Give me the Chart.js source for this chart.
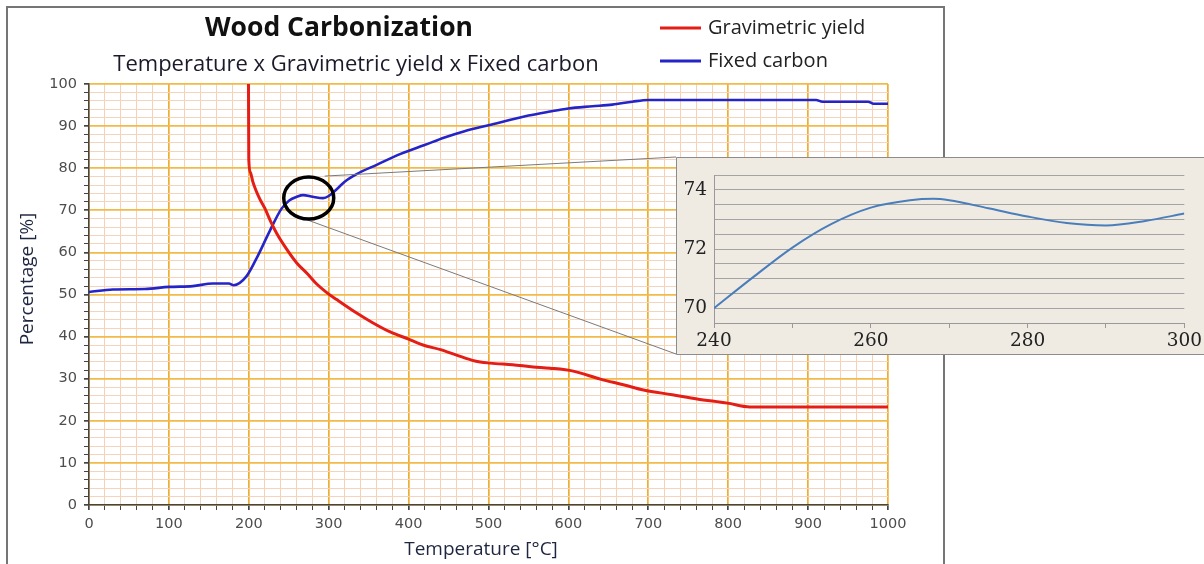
<!DOCTYPE html>
<html><head><meta charset="utf-8">
<script src="https://cdn.jsdelivr.net/npm/chart.js@4.4.1/dist/chart.umd.min.js"></script>
<style>
html,body{margin:0;padding:0;background:#fff;width:1204px;height:564px;overflow:hidden;}
#wrap{position:relative;width:1204px;height:564px;}
#main{position:absolute;left:0;top:0;}
#inset{position:absolute;left:676px;top:157px;}
</style></head>
<body><div id="wrap"><canvas id="main" width="1204" height="564"></canvas><canvas id="inset" width="528" height="198"></canvas></div>
<script>
// ---- data ----
const chartTitle = "Wood Carbonization";
const chartSubtitle = "Temperature x Gravimetric yield x Fixed carbon";
const xAxisTitle = "Temperature [°C]";
const yAxisTitle = "Percentage [%]";
const seriesNames = ["Gravimetric yield", "Fixed carbon"];

const yieldTemp = [199.6, 200, 202, 205, 209, 214, 220, 227, 235, 248, 260, 273, 285, 298, 310, 335, 355, 377, 400, 418, 440, 460, 483, 502, 530, 556, 577, 606, 640, 670, 694, 730, 761, 799, 827, 900, 1000];
const yieldVal  = [100, 82, 79, 76.8, 74.7, 72.6, 70.5, 67.5, 64.5, 60.6, 57.5, 55, 52.5, 50.4, 48.8, 45.6, 43.3, 41.1, 39.4, 38, 36.9, 35.6, 34.2, 33.7, 33.3, 32.8, 32.5, 31.8, 29.9, 28.5, 27.3, 26.2, 25.2, 24.2, 23.3, 23.3, 23.3];

const carbonTemp = [0, 30, 70, 100, 130, 155, 175, 181, 197, 210, 226, 241, 251, 260, 268, 280, 293, 300, 310, 320, 335, 360, 390, 420, 445, 470, 500, 550, 575, 600, 630, 655, 680, 700, 910, 918, 975, 982, 1000];
const carbonVal  = [50.6, 51.2, 51.3, 51.8, 52.0, 52.6, 52.6, 52.2, 54.3, 58.7, 65.0, 70.4, 72.4, 73.2, 73.6, 73.2, 72.9, 73.4, 75.0, 76.8, 78.6, 80.8, 83.4, 85.5, 87.3, 88.8, 90.2, 92.5, 93.4, 94.2, 94.7, 95.1, 95.8, 96.2, 96.2, 95.8, 95.8, 95.3, 95.3];

const insetTemp = [240, 245, 250, 255, 260, 265, 268, 270, 275, 280, 285, 290, 295, 300];
const insetVal  = [70.0, 71.05, 72.05, 72.85, 73.4, 73.65, 73.7, 73.65, 73.38, 73.1, 72.88, 72.8, 72.95, 73.2];

const highlightCenter = [275, 72.9]; // temperature, percentage of the circled zone

function pts(xs, ys){ return xs.map((x,i)=>({x:x, y:ys[i]})); }

const RED = '#e41e16', BLUE = '#2424c8';
const tickFont = {family:'"DejaVu Sans"', size:14.5};

const decor = {
  id:'decor',
  afterDraw(chart){
    const c = chart.ctx;
    c.save();
    // outer frame
    c.strokeStyle = '#767676'; c.lineWidth = 2;
    c.strokeRect(7, 7, 937, 580);
    // titles
    c.fillStyle = '#111'; c.textAlign = 'center'; c.textBaseline = 'middle';
    c.font = 'bold 26.5px "Open Sans"';
    c.fillText(chartTitle, 339, 28);
    c.font = '22px "Open Sans"';
    c.fillStyle = '#1a1a2a';
    c.fillText(chartSubtitle, 356, 65);
    // legend
    const cols = [RED, BLUE], ly = [28, 61];
    c.font = '20px "Open Sans"'; c.textAlign = 'left';
    for (let i=0;i<2;i++){
      c.strokeStyle = cols[i]; c.lineWidth = 3;
      c.beginPath(); c.moveTo(660, ly[i]); c.lineTo(701, ly[i]); c.stroke();
      c.fillStyle = '#222'; c.fillText(seriesNames[i], 708, ly[i]);
    }
    // axis titles
    c.font = '19px "Open Sans"'; c.textAlign = 'center'; c.fillStyle = '#1e2640';
    c.fillText(xAxisTitle, 481, 550);
    c.save(); c.translate(28, 279); c.rotate(-Math.PI/2);
    c.fillText(yAxisTitle, 0, 0); c.restore();
    // highlight ellipse and connector lines
    const sx = chart.scales.x, sy = chart.scales.y;
    const cx = sx.getPixelForValue(highlightCenter[0]), cy = sy.getPixelForValue(highlightCenter[1]);
    c.strokeStyle = '#7a7a7a'; c.lineWidth = 1;
    c.beginPath(); c.moveTo(cx+16, cy-22); c.lineTo(676, 157); c.stroke();
    c.beginPath(); c.moveTo(cx-1, cy+22); c.lineTo(676, 354); c.stroke();
    c.strokeStyle = '#000'; c.lineWidth = 3.5;
    c.beginPath(); c.ellipse(cx, cy, 25, 21, 0, 0, Math.PI*2); c.stroke();
    c.restore();
  }
};

new Chart(document.getElementById('main'), {
  type:'line',
  data:{datasets:[
    {label:seriesNames[0], data:pts(yieldTemp, yieldVal), borderColor:RED, borderWidth:3, pointRadius:0, cubicInterpolationMode:'monotone', fill:false},
    {label:seriesNames[1], data:pts(carbonTemp, carbonVal), borderColor:BLUE, borderWidth:2.6, pointRadius:0, cubicInterpolationMode:'monotone', fill:false}
  ]},
  options:{
    responsive:false, animation:false, events:[],
    layout:{padding:{left:0, top:84, right:316, bottom:0}},
    plugins:{legend:{display:false}, title:{display:false}, tooltip:{enabled:false}},
    scales:{
      x:{type:'linear', min:0, max:1000,
        ticks:{stepSize:20, maxTicksLimit:1000, autoSkip:false, maxRotation:0, color:'#4d4d4d', font:tickFont, padding:6,
          callback:v => v%100===0 ? v : ''},
        grid:{color:ctx => (ctx.tick && ctx.tick.value%100===0) ? '#f0ad32' : '#f5d3b2',
              lineWidth:ctx => (ctx.tick && ctx.tick.value%100===0) ? 1.7 : 1,
              tickColor:'#444', tickLength:5},
        border:{color:'#444', width:1.5},
        afterFit:s => { s.height = 59; }
      },
      y:{type:'linear', min:0, max:100,
        ticks:{stepSize:2, maxTicksLimit:1000, autoSkip:false, color:'#4d4d4d', font:tickFont, padding:7,
          callback:v => v%10===0 ? v : ''},
        grid:{color:ctx => (ctx.tick && ctx.tick.value%10===0) ? '#f2ba48' : '#f6d4bc',
              lineWidth:ctx => (ctx.tick && ctx.tick.value%10===0) ? 1.7 : 1,
              tickColor:'#444', tickLength:5},
        border:{color:'#444', width:1.5},
        afterFit:s => { s.width = 89; }
      }
    }
  },
  plugins:[decor]
});

const insetBg = {
  id:'insetBg',
  beforeDraw(chart){
    const c = chart.ctx, w = chart.width, h = chart.height;
    c.save();
    c.fillStyle = '#efebe3'; c.fillRect(0,0,w,h);
    c.strokeStyle = '#8c8c8c'; c.lineWidth = 1;
    c.beginPath(); c.moveTo(w, 0.5); c.lineTo(0.5, 0.5); c.lineTo(0.5, h-0.5); c.lineTo(w, h-0.5); c.stroke();
    c.restore();
  }
};

const serifFont = {family:'"DejaVu Serif"', size:18.5};
new Chart(document.getElementById('inset'), {
  type:'line',
  data:{datasets:[
    {data:pts(insetTemp, insetVal), borderColor:'#4a7ebb', borderWidth:2, pointRadius:0, cubicInterpolationMode:'monotone', fill:false}
  ]},
  options:{
    responsive:false, animation:false, events:[],
    layout:{padding:{left:0, top:12, right:18, bottom:0}},
    plugins:{legend:{display:false}, title:{display:false}, tooltip:{enabled:false}},
    scales:{
      x:{type:'linear', min:240, max:300,
        ticks:{stepSize:10, autoSkip:false, maxRotation:0, color:'#222', font:serifFont, padding:2,
          callback:v => v%20===0 ? v : ''},
        grid:{drawOnChartArea:false, tickColor:'#999', tickLength:5},
        border:{color:'#999', width:1},
        afterFit:s => { s.height = 32; }
      },
      y:{type:'linear', min:69.5, max:74.5,
        ticks:{stepSize:0.5, autoSkip:false, color:'#222', font:serifFont, padding:7,
          callback:v => (Math.abs(v-Math.round(v))<1e-6 && Math.round(v)%2===0) ? Math.round(v) : ''},
        grid:{color:'#a3a3a3', drawTicks:false},
        border:{color:'#999', width:1},
        afterFit:s => { s.width = 38; }
      }
    }
  },
  plugins:[insetBg]
});
</script>
</body></html>
